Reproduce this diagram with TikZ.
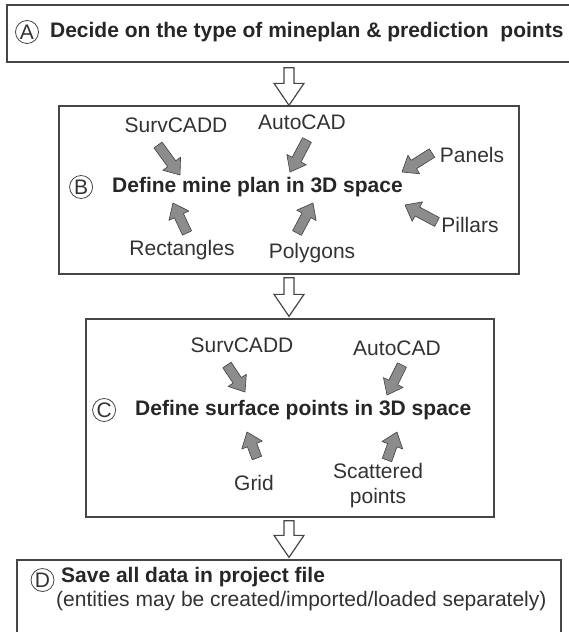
\documentclass[tikz,border=0pt]{standalone}
\usepackage{fontspec}
\setmainfont{Liberation Sans}
\usetikzlibrary{positioning,calc}

\definecolor{linegray}{RGB}{70,70,70}
\definecolor{txtgray}{RGB}{50,50,50}
\definecolor{arrgray}{RGB}{140,140,140}

% block arrow from tail #2 to tip #3, shaft/head half width #4/#5, head length #6
\newcommand{\blockarrow}[6][]{%
  \coordinate (ba-neck) at ($(#3)!#6!(#2)$);
  \filldraw[#1] ($(#2)!#4!90:(#3)$) -- ($(ba-neck)!#4!90:(#3)$) -- ($(ba-neck)!#5!90:(#3)$) -- (#3)
    -- ($(ba-neck)!#5!-90:(#3)$) -- ($(ba-neck)!#4!-90:(#3)$) -- ($(#2)!#4!-90:(#3)$) -- cycle;
}

\begin{document}
\begin{tikzpicture}[x=1pt, y=-1pt, font=\fontsize{21}{25}\selectfont]

% Styles
\tikzstyle{box} = [rectangle, draw=linegray, line width=1.3pt, inner sep=0pt]
\tikzstyle{letter} = [circle, draw=linegray, line width=0.8pt, minimum size=23pt, inner sep=0pt, text=txtgray]
\tikzstyle{head} = [font=\fontsize{21}{25}\selectfont\bfseries, text=black!85, inner sep=0pt]
\tikzstyle{lbl} = [text=txtgray, inner sep=0pt]
\tikzstyle{small} = [fill=arrgray, draw=black!75, line width=0.6pt, line join=round]
\tikzstyle{hollow} = [fill=white, draw=linegray, line width=1.2pt, line join=miter]

\useasboundingbox (0,0) rectangle (569,632);

% Boxes
\node [box, minimum width=568, minimum height=57] (boxA) at (291,33.5) {};
\node [box, minimum width=460, minimum height=168] (boxB) at (289,190) {};
\node [box, minimum width=408, minimum height=198] (boxC) at (290,418) {};
\node [box, minimum width=544, minimum height=80] (boxD) at (289,600) {};

% Step A
\node [letter] (circA) at (27,32) {A};
\node [head, right=11pt of circA] (textA) {Decide on the type of mineplan \& prediction\ \ points};

% Step B
\node [head, anchor=west] (textB) at (112,187) {Define mine plan in 3D space};
\node [letter, left=19pt of textB] (circB) {B};
\node [lbl] (survB) at (176,125) {SurvCADD};
\node [lbl] (autoB) at (302,122) {AutoCAD};
\node [lbl] (panB) at (472,155) {Panels};
\node [lbl] (pilB) at (470,225) {Pillars};
\node [lbl] (recB) at (182,250) {Rectangles};
\node [lbl] (polB) at (312,253) {Polygons};

% Step C
\node [head, anchor=west] (textC) at (135,410) {Define surface points in 3D space};
\node [letter, left=19pt of textC] (circC) {C};
\node [lbl] (survC) at (242,345) {SurvCADD};
\node [lbl] (autoC) at (397,348) {AutoCAD};
\node [lbl] (gridC) at (254,483) {Grid};
\node [lbl, align=center, font=\fontsize{21}{25}\selectfont] (scatC) at (378,486) {Scattered\\points};

% Step D
\node [head, anchor=west] (textD) at (61,577) {Save all data in project file};
\node [letter] (circD) at (42.5,580) {D};
\node [lbl, anchor=west] (noteD) at (56,601) {(entities may be created/imported/loaded separately)};

% Arrow ends
\coordinate (survB-t) at (158,145); \coordinate (survB-h) at (180,175);
\coordinate (autoB-t) at (307,140); \coordinate (autoB-h) at (290,172);
\coordinate (panB-t) at (432,153);  \coordinate (panB-h) at (402,172);
\coordinate (pilB-t) at (437,222);  \coordinate (pilB-h) at (405,205);
\coordinate (recB-t) at (187,233);  \coordinate (recB-h) at (173,203);
\coordinate (polB-t) at (297,233);  \coordinate (polB-h) at (313,203);
\coordinate (survC-t) at (227,365); \coordinate (survC-h) at (245,392);
\coordinate (autoC-t) at (402,365); \coordinate (autoC-h) at (387,395);
\coordinate (gridC-t) at (257,458); \coordinate (gridC-h) at (247,432);
\coordinate (scatC-t) at (387,460); \coordinate (scatC-h) at (397,432);

% Small arrows
\foreach \a in {survB,autoB,panB,pilB,recB,polB,survC,autoC,gridC,scatC}
  \blockarrow[small]{\a-t}{\a-h}{5pt}{11pt}{14pt};

% Flow arrows
\coordinate (ab-t) at ([yshift=-5pt]boxA.south -| boxB.north);
\coordinate (bc-t) at ([yshift=-3pt]boxB.south);
\coordinate (bc-h) at ([yshift=2pt]boxC.north -| boxB.south);
\coordinate (cd-t) at ([yshift=-3pt]boxC.south -| boxB.south);
\coordinate (cd-h) at ([yshift=2pt]boxD.north -| boxB.south);
\blockarrow[hollow]{ab-t}{boxB.north}{5pt}{15pt}{22pt}
\blockarrow[hollow]{bc-t}{bc-h}{5pt}{15pt}{22pt}
\blockarrow[hollow]{cd-t}{cd-h}{5pt}{15pt}{22pt}

\end{tikzpicture}
\end{document}
